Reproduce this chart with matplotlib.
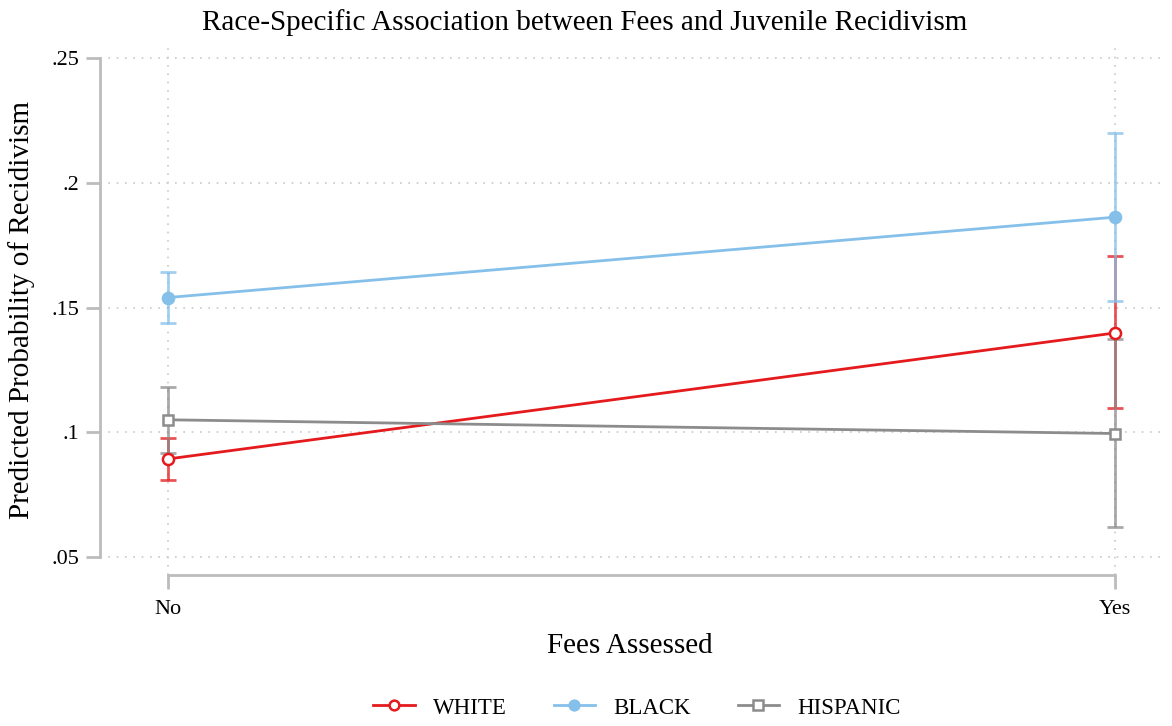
import matplotlib
matplotlib.use("Agg")
import matplotlib.pyplot as plt
from matplotlib.lines import Line2D

categories = ["No", "Yes"]
groups = ["WHITE", "BLACK", "HISPANIC"]
estimates = {
    "WHITE": [0.0893, 0.1398],
    "BLACK": [0.1540, 0.1862],
    "HISPANIC": [0.1050, 0.0995],
}
lower = {
    "WHITE": [0.0807, 0.1096],
    "BLACK": [0.1438, 0.1527],
    "HISPANIC": [0.0917, 0.0620],
}
upper = {
    "WHITE": [0.0977, 0.1705],
    "BLACK": [0.1643, 0.2200],
    "HISPANIC": [0.1181, 0.1372],
}
yticks = [0.05, 0.10, 0.15, 0.20, 0.25]
ytick_labels = [".05", ".1", ".15", ".2", ".25"]

colors = {"WHITE": "#e41a1c", "BLACK": "#85c0ea", "HISPANIC": "#8c8c8c"}
markers = {"WHITE": ("o", "white"), "BLACK": ("o", None), "HISPANIC": ("s", "white")}

plt.rcParams['font.family'] = ['Liberation Serif', 'DejaVu Serif']

W, H = 1172, 726
fig = plt.figure(figsize=(W / 100, H / 100), dpi=100)
ax = fig.add_axes([100 / W, 1 - 575 / H, (1160 - 100) / W, (575 - 45) / H])

x = list(range(len(categories)))
for g in groups:
    c = colors[g]
    yerr = [[e - l for e, l in zip(estimates[g], lower[g])],
            [u - e for e, u in zip(estimates[g], upper[g])]]
    ax.errorbar(x, estimates[g], yerr=yerr, fmt="none", ecolor=c, elinewidth=2,
                capsize=6, capthick=2, alpha=0.75, zorder=2)
for g in groups:
    c = colors[g]
    m, fc = markers[g]
    ax.plot(x, estimates[g], color=c, lw=2, marker=m,
            markersize=8 if m == "o" else 7,
            markerfacecolor=c if fc is None else fc,
            markeredgecolor=c, markeredgewidth=1.8, zorder=3)

ax.set_xlim(-0.0718, 1.0475)
ax.set_ylim(0.0428, 0.2552)
ax.set_xticks(x)
ax.set_xticklabels(categories, fontsize=16)
ax.set_yticks(yticks)
ax.set_yticklabels(ytick_labels, fontsize=16)

ax.grid(True, linestyle=(0, (1, 4)), color="#c8c8c8", lw=1.2)
ax.set_axisbelow(True)

for s in ["top", "right"]:
    ax.spines[s].set_visible(False)
ax.spines["left"].set_bounds(0.05, 0.25)
ax.spines["bottom"].set_bounds(0, 1)
for s in ["left", "bottom"]:
    ax.spines[s].set_color("#bcbcbc")
    ax.spines[s].set_linewidth(2)
ax.tick_params(axis="both", color="#bcbcbc", width=2, length=10, pad=5)
ax.tick_params(axis="x", pad=8)

ax.set_xlabel("Fees Assessed", fontsize=21, labelpad=10)
ax.set_ylabel("Predicted Probability of Recidivism", fontsize=21, labelpad=12)
fig.suptitle("Race-Specific Association between Fees and Juvenile Recidivism",
             fontsize=21, x=585 / W, y=1 - 9 / H, va="top")

handles = []
for g in groups:
    c = colors[g]
    m, fc = markers[g]
    handles.append(Line2D([0], [0], color=c, lw=2, marker=m, markersize=7,
                          markerfacecolor=c if fc is None else fc,
                          markeredgecolor=c, markeredgewidth=1.8))
fig.legend(handles, groups, loc="center", bbox_to_anchor=(637 / W, 1 - 708 / H),
           ncol=3, frameon=False, fontsize=16.5, handlelength=1.8, columnspacing=2.05,
           handletextpad=0.8)

fig.savefig("out.png", dpi=100)
